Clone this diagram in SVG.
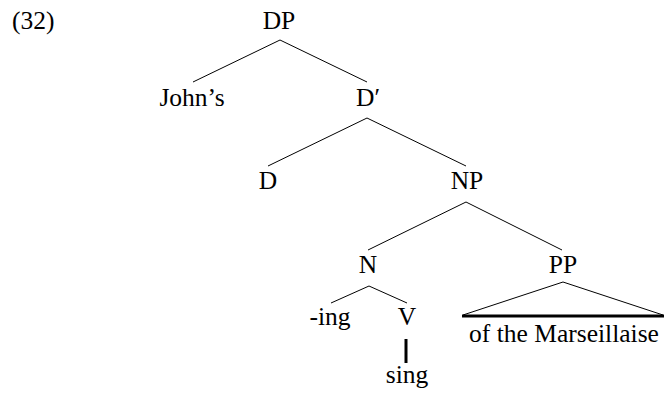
<svg xmlns="http://www.w3.org/2000/svg" width="666" height="397" viewBox="0 0 666 397">
<style>
text{font-family:"Liberation Serif","Times New Roman",serif;font-size:25.5px;fill:#000;text-anchor:middle}
.e{stroke:#000;stroke-width:1;fill:none}
.t{stroke:#000;stroke-width:3;fill:none}
</style>
<rect width="666" height="397" fill="#fff"/>
<text x="12" y="29" style="text-anchor:start">(32)</text>
<g id="DP"><text x="279" y="29">DP</text></g>
<g id="Johns"><text x="192" y="106">John’s</text></g>
<g id="Dbar"><text x="368" y="106">D′</text></g>
<g id="D"><text x="268" y="189">D</text></g>
<g id="NP"><text x="467" y="189">NP</text></g>
<g id="N"><text x="368" y="273">N</text></g>
<g id="PP"><text x="563" y="273">PP</text></g>
<g id="ing"><text x="330" y="325">-ing</text></g>
<g id="V"><text x="407" y="325">V</text></g>
<g id="sing"><text x="407" y="383">sing</text></g>
<g id="marseillaise"><text x="564" y="342">of the Marseillaise</text></g>
<g id="connectors">
<path class="e" d="M193 82 L280 40 L367 82"/>
<path class="e" d="M268 166 L367 118 L466 166"/>
<path class="e" d="M368 250 L466 202 L562 250"/>
<path class="e" d="M331 303 L369 286 L407 303"/>
<path class="t" d="M406 339 V363"/>
<path class="e" d="M463 315 L563 282 L663 315"/>
<path class="t" d="M462 316 H664"/>
</g>
</svg>
